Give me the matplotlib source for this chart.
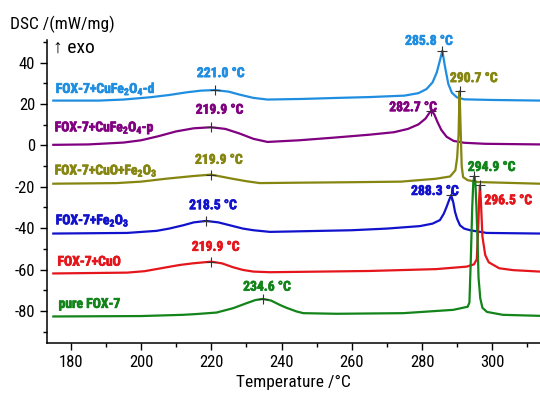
# DSC curves of FOX-7 and its mixtures with metal oxide catalysts

import numpy as np
import matplotlib
matplotlib.use("Agg")
import matplotlib.pyplot as plt
import matplotlib.patheffects as pe
from matplotlib import font_manager
from matplotlib.ticker import MultipleLocator

# temperature (°C) / heat flow (mW/mg) for each sample, offset curves
t_cufe_d = [175, 188, 195, 202.5, 208, 213, 217, 221.0, 225, 228, 232, 236, 246, 256, 265, 275,
            279, 281.3, 283, 284.2, 285.0, 285.8, 286.5, 287.5, 288.5, 289.9, 292, 300, 313.6]
dsc_cufe_d = [21.7, 21.7, 22.2, 23.3, 24.4, 25.7, 26.5, 26.8, 26.0, 24.6, 23.0, 22.2, 22.5, 23.0, 23.4, 24.1,
              25.3, 27.3, 30.5, 35.3, 40.5, 45.8, 38.5, 29.7, 25.5, 23.3, 22.3, 22.0, 21.7]

t_cufe_p = [175, 185, 195, 200, 205, 210, 215, 219.9, 224, 228, 232, 236, 245, 255, 265, 272,
            276, 279, 281, 282.0, 282.7, 283.5, 284.5, 285.5, 287, 289, 292, 298, 313.6]
dsc_cufe_p = [0.3, 0.5, 1.4, 2.5, 4.5, 6.8, 8.3, 8.8, 8.0, 5.8, 3.2, 1.7, 2.5, 3.8, 5.2, 6.4,
              8.0, 10.2, 13.0, 15.5, 16.9, 15.0, 11.0, 7.5, 4.2, 2.2, 1.3, 0.8, 0.5]

t_cuo_fe = [175, 193, 200, 207, 214.8, 219.9, 226, 230, 233.8, 245, 258.5, 274, 284, 288,
            289.5, 290.0, 290.4, 290.7, 291.0, 291.3, 291.7, 293, 296, 313.6]
dsc_cuo_fe = [-18.5, -18.2, -17.5, -16.1, -14.8, -14.1, -16.1, -17.3, -18.2, -18.0, -17.8, -17.5, -16.1, -15.0,
              -12.0, -6.0, 5.0, 26.2, 8.0, -10.0, -15.3, -16.8, -17.7, -18.5]

t_fe = [175, 196, 204.4, 208, 212, 215, 218.5, 222, 226.2, 229, 232, 236.7, 260, 270, 279.4,
        283, 285.1, 286.2, 287.0, 287.7, 288.3, 288.9, 289.4, 290.0, 290.8, 292.0, 293.7, 298.4, 313.6]
dsc_fe = [-42.6, -42.3, -41.3, -40.2, -38.6, -37.2, -36.5, -37.2, -39.0, -40.2, -41.0, -41.8, -41.0, -40.2, -39.0,
          -37.8, -36.1, -33.0, -29.7, -26.5, -24.0, -27.5, -32.1, -35.5, -38.6, -40.2, -41.0, -42.3, -42.6]

t_cuo = [175, 196, 201, 207.3, 211, 214.8, 219.9, 223, 226.2, 229, 232, 236.7, 265, 284, 292.7,
         294.8, 295.6, 296.0, 296.3, 296.5, 296.8, 297.2, 298.0, 299, 302, 306, 313.6]
dsc_cuo = [-61.9, -61.5, -60.8, -58.9, -57.8, -57.0, -56.2, -57.0, -58.9, -60.2, -61.0, -61.3, -60.7, -59.8, -58.6,
           -57.5, -55.0, -40.0, -25.0, -19.3, -28.0, -44.0, -53.0, -56.5, -59.4, -60.3, -61.0]

t_pure = [175, 200, 212, 216, 221.5, 226.2, 230, 232.5, 234.6, 237, 239.5, 241.4, 244.3, 246.2, 255.7,
          274.7, 288.9, 293.0, 293.5, 293.9, 294.3, 294.6, 294.9, 295.2, 295.5, 295.8, 296.1, 296.6,
          297.2, 298.5, 303, 313.6]
dsc_pure = [-82.7, -82.5, -81.9, -81.5, -80.8, -78.7, -76.3, -74.8, -74.2, -75.0, -77.1, -78.5, -80.3, -81.1, -81.4,
            -81.1, -79.5, -78.0, -76.0, -55.0, -30.0, -18.0, -14.9, -18.0, -30.0, -45.0, -64.0, -74.0,
            -78.5, -80.5, -81.9, -82.4]

names = [r"FOX-7+CuFe$_2$O$_4$-d", r"FOX-7+CuFe$_2$O$_4$-p", r"FOX-7+CuO+Fe$_2$O$_3$",
         r"FOX-7+Fe$_2$O$_3$", "FOX-7+CuO", "pure FOX-7"]
temps = [t_cufe_d, t_cufe_p, t_cuo_fe, t_fe, t_cuo, t_pure]
curves = [dsc_cufe_d, dsc_cufe_p, dsc_cuo_fe, dsc_fe, dsc_cuo, dsc_pure]
hump_t = [221.0, 219.9, 219.9, 218.5, 219.9, 234.6]
peak_t = [285.8, 282.7, 290.7, 288.3, 296.5, 294.9]

colors = ["#1f8ee0", "#800080", "#858510", "#1212cc", "#e4151b", "#12841a"]
# where the names and the peak readings sit (data coords)
name_pos = [(175.7, 27.5), (175.4, 8.7), (175.4, -12.0), (175.7, -36.1), (176.2, -56.2), (176.5, -76.6)]
hump_pos = [(222.7, 35.0), (222.4, 17.3), (222.2, -6.9), (220.5, -28.9), (221.3, -49.0), (235.9, -68.3)]
peak_pos = [(282.0, 50.6), (277.5, 18.5), (294.8, 32.6), (283.7, -22.0), (304.6, -26.5), (299.9, -10.4)]

# prefer a condensed face, take what is there
installed = {f.name for f in font_manager.fontManager.ttflist}
condensed = [n for n in ("Liberation Sans Narrow", "Arial Narrow", "DejaVu Sans Condensed",
                         "Roboto Condensed", "Open Sans Condensed") if n in installed]
narrow = condensed[0] if condensed else None
plt.rcParams["font.family"] = ([narrow] if narrow else []) + ["Liberation Sans", "DejaVu Sans"]
plt.rcParams["mathtext.fontset"] = "custom"
plt.rcParams["mathtext.default"] = "regular"
plt.rcParams["axes.unicode_minus"] = False
shrink = 1.0 if narrow else 0.85


def label(ax, x, y, s, c, **kw):
    # heavy coloured annotation, a thin stroke thickens the glyphs
    ax.text(x, y, s, color=c, fontsize=9.8 * shrink, fontweight="bold", va="center",
            path_effects=[pe.withStroke(linewidth=0.5, foreground=c)], **kw)


def main():
    fig = plt.figure(figsize=(5.4, 3.96), dpi=100)
    ax = fig.add_axes([0.087, 0.134, 0.913, 0.765])

    for i in range(len(curves)):
        t, d, c = temps[i], curves[i], colors[i]
        ax.plot(t, d, color=c, linewidth=1.6, solid_joinstyle="round")
        # crosses on the two maxima
        for tp in (hump_t[i], peak_t[i]):
            ax.plot(tp, d[t.index(tp)], marker="+", color="#333333", markersize=7, markeredgewidth=0.8)
        label(ax, *name_pos[i], names[i], c, ha="left")
        label(ax, *hump_pos[i], "%.1f °C" % hump_t[i], c, ha="center")
        label(ax, *peak_pos[i], "%.1f °C" % peak_t[i], c, ha="center")

    ax.set_xlim(173.2, 313.6)
    ax.set_ylim(-95.5, 51)
    ax.xaxis.set_major_locator(MultipleLocator(20))
    ax.xaxis.set_minor_locator(MultipleLocator(10))
    ax.yaxis.set_major_locator(MultipleLocator(20))
    ax.yaxis.set_minor_locator(MultipleLocator(10))
    ax.tick_params(which="major", direction="out", length=5, width=1, labelsize=12 * shrink)
    ax.tick_params(which="minor", direction="out", length=3, width=1)

    ax.spines["right"].set_color("none")
    ax.spines["top"].set_color("none")
    ax.spines["left"].set_linewidth(1.1)
    ax.spines["bottom"].set_linewidth(1.1)

    ax.set_xlabel("Temperature /°C", fontsize=12.5 * shrink, labelpad=4)
    fig.text(0.0185, 0.938, "DSC /(mW/mg)", fontsize=12.5 * shrink, ha="left", va="center")
    fig.text(0.098, 0.879, "↑ exo", fontsize=14 * shrink, ha="left", va="center")

    fig.savefig("out.png", dpi=100)


if __name__ == '__main__':
    main()
